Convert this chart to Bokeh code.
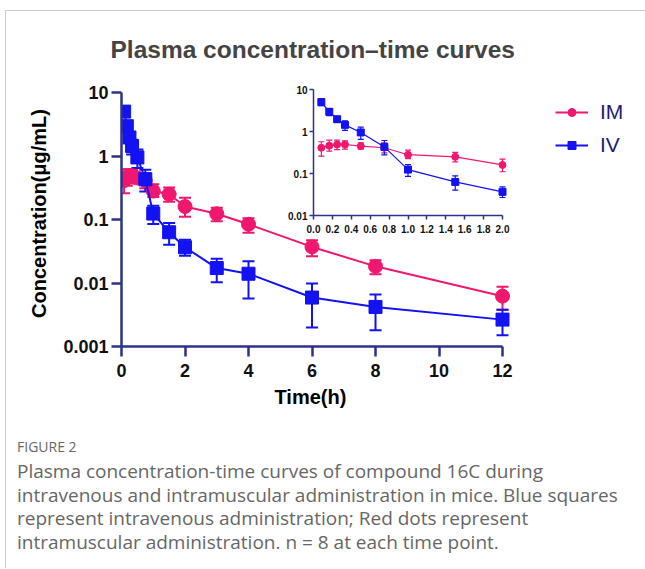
import math
from bokeh.plotting import figure
from bokeh.models import (ColumnDataSource, Whisker, TeeHead, FixedTicker, Legend,
                          LegendItem, Div, PrintfTickFormatter, Range1d, LogScale,
                          LinearAxis, LogAxis, Title)
from bokeh.layouts import column
from bokeh.embed import file_html
from bokeh.resources import INLINE

# ---------------- data ----------------
times = [0.083, 0.167, 0.25, 0.333, 0.5, 0.75, 1.0, 1.5, 2.0, 3.0, 4.0, 6.0, 8.0, 12.0]

im_mean = [0.41, 0.46, 0.49, 0.49, 0.45, 0.41, 0.28, 0.25, 0.16, 0.123, 0.084, 0.037, 0.0183, 0.0062]
im_upper = [0.57, 0.62, 0.62, 0.60, 0.54, 0.54, 0.36, 0.32, 0.22, 0.153, 0.105, 0.047, 0.0228, 0.0087]
im_lower = [0.26, 0.34, 0.37, 0.38, 0.38, 0.31, 0.226, 0.19, 0.11, 0.094, 0.062, 0.0263, 0.0137, 0.0038]

iv_mean = [5.0, 2.95, 1.96, 1.44, 0.95, 0.43, 0.124, 0.063, 0.0365, 0.0172, 0.014, 0.0059, 0.0042, 0.00265]
iv_upper = [6.1, 3.5, 2.25, 1.8, 1.27, 0.61, 0.164, 0.088, 0.048, 0.0242, 0.022, 0.0098, 0.0066, 0.0038]
iv_lower = [4.1, 2.4, 1.67, 1.06, 0.65, 0.277, 0.085, 0.040, 0.0268, 0.0103, 0.0057, 0.0020, 0.0018, 0.0015]

series_names = ["IM", "IV"]

main_x_max = 12
main_x_ticks = [0, 2, 4, 6, 8, 10, 12]
main_y_min, main_y_max = 0.001, 10
main_y_ticks = [0.001, 0.01, 0.1, 1, 10]
main_y_labels = ["0.001", "0.01", "0.1", "1", "10"]

inset_x_ticks = [0.0, 0.2, 0.4, 0.6, 0.8, 1.0, 1.2, 1.4, 1.6, 1.8, 2.0]
inset_y_ticks = [0.01, 0.1, 1, 10]
inset_y_labels = ["0.01", "0.1", "1", "10"]

title_text = "Plasma concentration\u2013time curves"
x_title = "Time(h)"
y_title = "Concentration(\u03bcg/mL)"
caption_head = "FIGURE 2"
caption_lines = [
    "Plasma concentration-time curves of compound 16C during",
    "intravenous and intramuscular administration in mice. Blue squares",
    "represent intravenous administration; Red dots represent",
    "intramuscular administration. n = 8 at each time point.",
]

# ---------------- styles / layout constants ----------------
IM_COLOR = "#f0176f"
IV_COLOR = "#1212f2"
AXIS_COLOR = "#2e3388"
FONT = "Liberation Sans"

W, H = 630, 412
BL, BR, BT, BB = 115, 0, 69, 77
FW, FH = W - BL - BR, H - BT - BB          # frame 515 x 266
AXIS_PX = 381                              # pixel length of the 0..12 axis
TOP_PAD = 12                               # frame space above the "10" tick
dec_main = (FH - TOP_PAD) / (math.log10(main_y_max) - math.log10(main_y_min))
y_top = 10 ** (math.log10(main_y_max) + TOP_PAD / dec_main)

# inset placement inside the main frame (pixels from frame left / top)
IN_LEFT, IN_RIGHT = 192, 381               # x=0 .. x=2
IN_TOP, IN_BOTTOM = 9, 135                 # y=10 .. y=0.01
in_x0, in_x1 = 0.0, 2.0
in_y0, in_y1 = 0.01, 10.0
ux = (in_x1 - in_x0) / (IN_RIGHT - IN_LEFT)
ix_range = Range1d(in_x0 - IN_LEFT * ux, in_x0 + (FW - IN_LEFT) * ux)
dec_px = (IN_BOTTOM - IN_TOP) / (math.log10(in_y1) - math.log10(in_y0))
iy_range = Range1d(10 ** (math.log10(in_y0) - (FH - IN_BOTTOM) / dec_px),
                   10 ** (math.log10(in_y1) + IN_TOP / dec_px))

n_in = sum(1 for t in times if t <= in_x1)


def src(t, y, hi, lo):
    return ColumnDataSource(dict(t=t, y=y, hi=hi, lo=lo))


im_src = src(times, im_mean, im_upper, im_lower)
iv_src = src(times, iv_mean, iv_upper, iv_lower)
im_src_in = src(times[:n_in], im_mean[:n_in], im_upper[:n_in], im_lower[:n_in])
iv_src_in = src(times[:n_in], iv_mean[:n_in], iv_upper[:n_in], iv_lower[:n_in])


def style_axis(ax, tick_size, lw, tick_out):
    ax.axis_line_color = AXIS_COLOR
    ax.axis_line_width = lw
    ax.major_tick_line_color = AXIS_COLOR
    ax.major_tick_line_width = lw
    ax.major_tick_out = tick_out
    ax.major_tick_in = 0
    ax.minor_tick_line_color = None
    ax.major_label_text_font = FONT
    ax.major_label_text_font_style = "bold"
    ax.major_label_text_font_size = tick_size
    ax.major_label_text_color = "#111111"
    ax.axis_label_text_font = FONT
    ax.axis_label_text_font_style = "bold"
    ax.axis_label_text_font_size = "20px"
    ax.axis_label_text_color = "#000000"


# ---------------- main plot ----------------
p = figure(width=W, height=H,
           x_range=Range1d(0, main_x_max * FW / AXIS_PX), y_range=Range1d(main_y_min, y_top),
           y_axis_type="log", output_backend="svg", toolbar_location=None,
           min_border_left=BL, min_border_right=BR, min_border_top=BT, min_border_bottom=BB)
p.extra_x_ranges = {"ix": ix_range}
p.extra_y_ranges = {"iy": iy_range}
p.extra_y_scales = {"iy": LogScale()}
p.xgrid.visible = False
p.ygrid.visible = False
p.outline_line_color = None

style_axis(p.xaxis[0], "18px", 2.5, 10)
style_axis(p.yaxis[0], "18px", 2.5, 10)
p.xaxis.bounds = (0, main_x_max)
p.yaxis.bounds = (main_y_min, main_y_max)
p.xaxis.ticker = FixedTicker(ticks=main_x_ticks)
p.yaxis.ticker = FixedTicker(ticks=main_y_ticks)
p.yaxis.major_label_overrides = {v: s for v, s in zip(main_y_ticks, main_y_labels)}
p.yaxis.axis_label = y_title
p.xaxis.major_label_standoff = 7
p.yaxis.major_label_standoff = 3
p.yaxis.axis_label_standoff = 10

# x-axis title as a below-panel title so it centres on the 0..12 axis, not the frame
p.add_layout(Title(text=x_title, align="left", offset=153, standoff=9, text_font=FONT,
                   text_font_style="bold", text_font_size="20px", text_color="#000000"),
             "below")

p.title.text = title_text
p.title.align = "left"
p.title.offset = -11
p.title.text_font = FONT
p.title.text_font_style = "bold"
p.title.text_font_size = "24.5px"
p.title.standoff = 35

renderers = {}
for name, s, color, marker, size in (("IM", im_src, IM_COLOR, "circle", 14),
                                      ("IV", iv_src, IV_COLOR, "square", 13)):
    p.add_layout(Whisker(base="t", upper="hi", lower="lo", source=s, line_color=color,
                         line_width=2,
                         upper_head=TeeHead(size=12, line_color=color, line_width=2),
                         lower_head=TeeHead(size=12, line_color=color, line_width=2)))
    lr = p.line("t", "y", source=s, line_color=color, line_width=2)
    sr = p.scatter("t", "y", source=s, marker=marker, size=size, fill_color=color,
                   line_color=color)
    renderers[name] = [lr, sr]

legend = Legend(items=[LegendItem(label=n, renderers=renderers[n]) for n in series_names],
                location=(434, 189), margin=0, padding=0, spacing=9,
                glyph_width=33, glyph_height=20, label_height=20, label_standoff=12,
                label_text_font=FONT, label_text_font_size="21px", label_text_color="#1b1f6e",
                border_line_color=None, background_fill_alpha=0)
p.add_layout(legend)

# ---------------- inset (drawn on extra ranges) ----------------
iy_axis = LogAxis(x_range_name="ix", y_range_name="iy", fixed_location=in_x0,
                  bounds=(in_y0, in_y1), ticker=FixedTicker(ticks=inset_y_ticks))
iy_axis.major_label_overrides = {v: s for v, s in zip(inset_y_ticks, inset_y_labels)}
style_axis(iy_axis, "10px", 1.5, 4)
iy_axis.major_label_standoff = 2
p.add_layout(iy_axis, "left")

ix_axis = LinearAxis(x_range_name="ix", y_range_name="iy", fixed_location=in_y0,
                     bounds=(in_x0, in_x1), ticker=FixedTicker(ticks=inset_x_ticks),
                     formatter=PrintfTickFormatter(format="%.1f"))
style_axis(ix_axis, "10px", 1.5, 4)
ix_axis.major_label_standoff = 5
p.add_layout(ix_axis, "below")

for s, color, marker, size in ((im_src_in, IM_COLOR, "circle", 7),
                               (iv_src_in, IV_COLOR, "square", 7)):
    p.add_layout(Whisker(base="t", upper="hi", lower="lo", source=s, line_color=color,
                         line_width=1.2, x_range_name="ix", y_range_name="iy",
                         upper_head=TeeHead(size=6, line_color=color, line_width=1.2),
                         lower_head=TeeHead(size=6, line_color=color, line_width=1.2)))
    p.line("t", "y", source=s, line_color=color, line_width=1.2,
           x_range_name="ix", y_range_name="iy")
    p.scatter("t", "y", source=s, marker=marker, size=size, fill_color=color,
              line_color=color, x_range_name="ix", y_range_name="iy")

caption_html = (
    '<div style="font-family:\'Open Sans\';color:#666666;padding-left:6px;padding-top:10px;">'
    '<div style="font-size:14px;line-height:18px;color:#666666;">' + caption_head + '</div>'
    '<div style="font-size:19px;line-height:23.5px;margin-top:4px;white-space:nowrap;">'
    + "<br>".join(caption_lines) + '</div></div>'
)
caption = Div(text=caption_html, width=630, height=135)

layout = column(p, caption, margin=(10, 0, 0, 5),
                styles={"border-top": "1px solid #cccccc", "border-left": "1px solid #cccccc"})

open("out.html", "w").write(file_html(layout, INLINE))
